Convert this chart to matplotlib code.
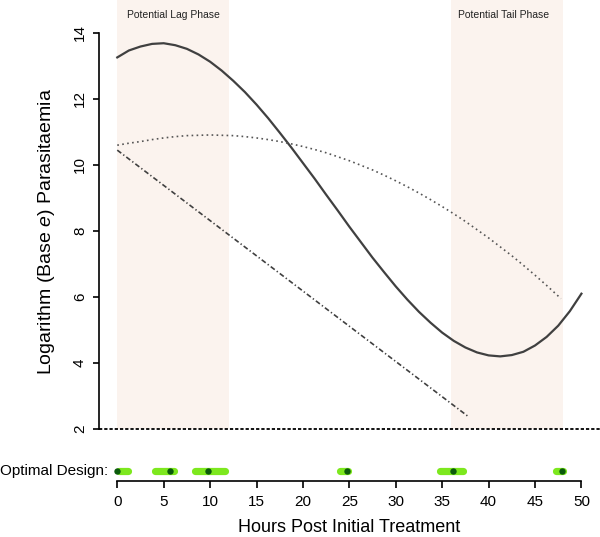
# -*- coding: utf-8 -*-
import numpy as np
import matplotlib
matplotlib.use('Agg')
import matplotlib.pyplot as plt

''' Data read off the figure '''
#Full (cubic) model, hours and log parasitaemia
t_solid = [0, 1.25, 2.5, 3.75, 5, 6.25, 7.5, 8.75, 10, 11.25, 12.5, 13.75, 15,
           16.25, 17.5, 18.75, 20, 21.25, 22.5, 23.75, 25, 26.25, 27.5, 28.75,
           30, 31.25, 32.5, 33.75, 35, 36.25, 37.5, 38.75, 40, 41.25, 42.5,
           43.75, 45, 46.25, 47.5, 48.75, 50]
y_solid = [13.26, 13.47, 13.59, 13.67, 13.69, 13.63, 13.52, 13.35, 13.13, 12.86,
           12.55, 12.21, 11.83, 11.42, 10.98, 10.53, 10.06, 9.59, 9.10, 8.62,
           8.13, 7.66, 7.19, 6.75, 6.32, 5.92, 5.55, 5.22, 4.92, 4.67, 4.47,
           4.32, 4.23, 4.20, 4.24, 4.34, 4.53, 4.79, 5.13, 5.57, 6.10]
#Quadratic model
t_dot = [0, 1.25, 2.5, 3.75, 5, 6.25, 7.5, 8.75, 10, 11.25, 12.5, 13.75, 15,
         16.25, 17.5, 18.75, 20, 21.25, 22.5, 23.75, 25, 26.25, 27.5, 28.75,
         30, 31.25, 32.5, 33.75, 35, 36.25, 37.5, 38.75, 40, 41.25, 42.5,
         43.75, 45, 46.25, 47.8]
y_dot = [10.60, 10.66, 10.71, 10.77, 10.82, 10.86, 10.89, 10.90, 10.91, 10.90,
         10.89, 10.86, 10.82, 10.77, 10.71, 10.64, 10.56, 10.47, 10.37, 10.25,
         10.13, 9.99, 9.85, 9.69, 9.52, 9.34, 9.15, 8.95, 8.74, 8.52, 8.29,
         8.04, 7.79, 7.52, 7.25, 6.96, 6.66, 6.35, 5.95]
#Linear model
t_lin = [0, 37.8]
y_lin = [10.45, 2.38]
#Detection limit
limit = 2.0

#Shaded phases
phase_lo = [0, 36]
phase_hi = [12, 48]
phase_txt = ['Potential Lag Phase', 'Potential Tail Phase']
phase_txt_x = [6.0, 41.6]

#Optimal design times and their ranges
design_t = [0, 5.7, 9.8, 24.75, 36.2, 47.9]
design_lo = [0.2, 4.1, 8.4, 24.0, 34.8, 47.3]
design_hi = [1.2, 6.1, 11.6, 24.9, 37.2, 48.0]

xticks = np.arange(0, 55, 5)
yticks = np.arange(2, 16, 2)


''' Plotting '''
plt.rcParams['font.family'] = ['Liberation Sans', 'DejaVu Sans']
plt.rcParams['mathtext.fontset'] = 'custom'
plt.rcParams['mathtext.it'] = 'Liberation Sans:italic'
plt.rcParams['mathtext.rm'] = 'Liberation Sans'

fig = plt.figure(figsize=(6, 5.37), dpi=100)

#Main panel
ax = fig.add_axes([0.1645, 0.195, 0.8355, 0.805])
ax.set_xlim(-2, 52)
ax.set_ylim(1.9, 15)

for lo, hi, txt, tx in zip(phase_lo, phase_hi, phase_txt, phase_txt_x):
    ax.fill_between([lo, hi], limit, 15, color='#FBF3EE', lw=0, zorder=0)
    ax.text(tx, 14.55, txt, fontsize=7.5, ha='center', va='center', color='#222222')

ax.plot(t_solid, y_solid, '-', color='#404040', lw=1.6)
ax.plot(t_dot, y_dot, color='#555555', lw=1.2, ls=(0, (1, 2)))
ax.plot(t_lin, y_lin, color='#404040', lw=1.2, ls=(0, (3, 1.5, 0.8, 1.5)))
ax.axhline(limit, color='black', lw=1.3, ls=(0, (1.8, 1.1)), clip_on=False)

for s in ['top', 'right', 'bottom']:
    ax.spines[s].set_visible(False)
ax.spines['left'].set_bounds(2, 14)
ax.spines['left'].set_linewidth(1.2)
ax.set_xticks([])
ax.set_yticks(yticks)
ax.tick_params(axis='y', length=4.5, width=1.2, pad=4, labelsize=11)
for lab in ax.get_yticklabels():
    lab.set_rotation(90)
    lab.set_va('center')

fig.text(47/600, 1 - 231/537, r'Logarithm (Base $e$) Parasitaemia',
         rotation=90, ha='center', va='center', fontsize=14)

#Design panel
ax2 = fig.add_axes([0.1645, 1 - 481/537, 0.8355, 20/537])
ax2.set_xlim(-2, 52)
ax2.set_ylim(0, 1)
for lo, hi in zip(design_lo, design_hi):
    ax2.plot([lo, hi], [0.5, 0.5], '-', color='#7DE81E', lw=5.2,
             solid_capstyle='round')
ax2.plot(design_t, [0.5]*len(design_t), 'o', color='#0B5A0B', ms=4.6, mec='none')

for s in ['top', 'right', 'left']:
    ax2.spines[s].set_visible(False)
ax2.spines['bottom'].set_bounds(0, 50)
ax2.spines['bottom'].set_linewidth(1.2)
ax2.set_yticks([])
ax2.set_xticks(xticks)
ax2.tick_params(axis='x', length=5, width=1.2, pad=5, labelsize=11)
ax2.patch.set_alpha(0)

fig.text(0.0, 1 - 471.5/537, 'Optimal Design:', ha='left', va='center', fontsize=11)
fig.text(117.3/600 + 25*9.28/600, 1 - 527/537, 'Hours Post Initial Treatment',
         ha='center', va='center', fontsize=13)

plt.savefig('out.png', dpi=100)
